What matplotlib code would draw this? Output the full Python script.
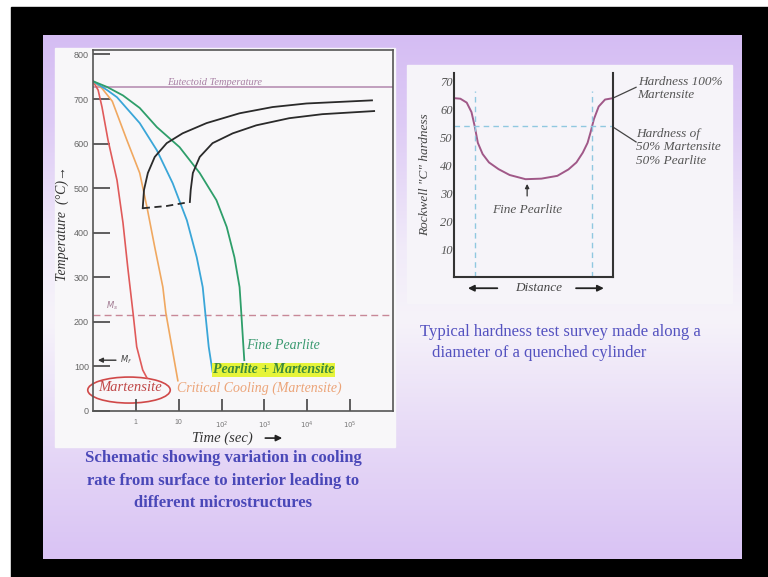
import numpy as np
import matplotlib
matplotlib.use("Agg")
import matplotlib.pyplot as plt
from matplotlib.patches import Rectangle, Ellipse
from matplotlib.colors import to_rgb

# ---- cooling curves (log10 time in s, temperature in C) ----
red_logt = [-1.0, -0.88, -0.79, -0.65, -0.44, -0.30, -0.19, -0.12, -0.06, 0.02, 0.16, 0.26]
red_temp = [740, 720, 682, 608, 518, 422, 323, 265, 215, 144, 92, 74]

orange_logt = [-1.0, -0.79, -0.55, -0.21, 0.09, 0.26, 0.44, 0.63, 0.70, 0.84, 0.98]
orange_temp = [740, 724, 695, 608, 534, 457, 368, 278, 220, 144, 68]

blue_logt = [-1.0, -0.67, -0.44, 0.09, 0.49, 0.86, 1.19, 1.42, 1.56, 1.62, 1.70, 1.79]
blue_temp = [740, 720, 704, 646, 585, 511, 428, 345, 278, 220, 144, 88]

green_logt = [-1.0, -0.67, -0.30, 0.09, 0.49, 1.02, 1.49, 1.88, 2.12, 2.30, 2.42, 2.46, 2.50, 2.53]
green_temp = [740, 727, 708, 680, 637, 592, 534, 473, 413, 345, 278, 220, 159, 114]

start_logt = [0.16, 0.19, 0.28, 0.44, 0.72, 1.09, 1.65, 2.42, 3.19, 3.98, 5.51]
start_temp = [455, 496, 534, 570, 601, 623, 646, 668, 682, 690, 697]

finish_logt = [1.26, 1.28, 1.33, 1.49, 1.79, 2.26, 2.81, 3.58, 4.35, 5.56]
finish_temp = [469, 496, 534, 570, 601, 623, 641, 657, 666, 673]

nose_logt = [0.16, 0.72, 1.26]
nose_temp = [455, 460, 469]

eutectoid_temp = 726
ms_temp = 215
mf_temp = 114

time_ticks = [1, 10, 100, 1000, 10000, 100000]
time_labels = ["1", "10", r"$10^2$", r"$10^3$", r"$10^4$", r"$10^5$"]
temp_ticks = [0, 100, 200, 300, 400, 500, 600, 700, 800]

# ---- hardness profile ----
hard_dist = [0.0, 0.04, 0.08, 0.11, 0.13, 0.15, 0.18, 0.22, 0.28, 0.35, 0.45, 0.55,
             0.65, 0.72, 0.77, 0.81, 0.84, 0.86, 0.88, 0.91, 0.95, 1.0]
hard_val = [64, 63.8, 62.4, 59, 54, 48, 44, 41, 38.6, 36.5, 35, 35.2,
            36.2, 38.5, 41, 44.5, 48, 52, 56.5, 61, 63.5, 64]
hard_ticks = [10, 20, 30, 40, 50, 60, 70]
half_hardness = 54

serif = ["Liberation Serif", "DejaVu Serif"]
sans = ["Liberation Sans", "DejaVu Sans"]

fig = plt.figure(figsize=(7.68, 5.77), dpi=100)
fig.patch.set_facecolor("white")

# ---- slide background in pixel coords ----
bg = fig.add_axes([0, 0, 1, 1])
bg.add_patch(Rectangle((11, 7), 757, 570, color="black", zorder=0))
stops_y = [35, 120, 250, 320, 420, 559]
stops_c = [to_rgb(c) for c in ["#d5bdf3", "#ddcaf5", "#f1ebf9", "#f6f3fa", "#e9ddf7", "#d9c3f4"]]
ys = np.arange(35, 560)
grad = np.stack([np.interp(ys, stops_y, [c[i] for c in stops_c]) for i in range(3)], axis=-1)
bg.imshow(grad[:, None, :], extent=(43, 742, 559, 35), aspect="auto",
          interpolation="bilinear", zorder=1)
bg.add_patch(Rectangle((55, 48), 340, 399, color="#f8f7f9", zorder=2))
bg.add_patch(Rectangle((407, 65), 325, 238, color="#f6f4f9", zorder=2))
bg.set_xlim(0, 768)
bg.set_ylim(577, 0)
bg.axis("off")

cap_color = "#4a48b8"
for yy, line in zip([458, 481, 503], ["Schematic showing variation in cooling",
                                      "rate from surface to interior leading to",
                                      "different microstructures"]):
    bg.text(223, yy, line, ha="center", va="center", fontsize=12, fontweight="bold",
            family=serif, color=cap_color, zorder=3)
bg.text(420, 332, "Typical hardness test survey made along a", ha="left", va="center",
        fontsize=12, family=serif, color="#5452c0", zorder=3)
bg.text(432, 353, "diameter of a quenched cylinder", ha="left", va="center",
        fontsize=12, family=serif, color="#5452c0", zorder=3)

# ---- left chart: cooling curves ----
ax = fig.add_axes([93 / 768, 1 - 411 / 577, 300 / 768, 361 / 577])
ax.set_facecolor("#f8f7f9")
ax.set_xscale("log")
ax.set_xlim(0.1, 1e6)
ax.set_ylim(0, 810)

ax.axhline(eutectoid_temp, color="#b890b4", lw=1.2)
ax.axhline(ms_temp, color="#c88898", lw=1.0, ls=(0, (5, 3)))

def tt(v):
    return 10 ** np.array(v)

ax.plot(tt(red_logt), red_temp, color="#e05a5a", lw=1.2)
ax.plot(tt(orange_logt), orange_temp, color="#f0a860", lw=1.2)
ax.plot(tt(blue_logt), blue_temp, color="#3aa6d8", lw=1.3)
ax.plot(tt(green_logt), green_temp, color="#2e9e6a", lw=1.3)
ax.plot(tt(start_logt), start_temp, color="#2a2a2a", lw=1.3)
ax.plot(tt(finish_logt), finish_temp, color="#2a2a2a", lw=1.3)
ax.plot(tt(nose_logt), nose_temp, color="#2a2a2a", lw=1.3, ls=(0, (4, 2.5)))

ax.set_xticks(time_ticks)
ax.set_xticklabels(time_labels)
ax.xaxis.set_minor_locator(matplotlib.ticker.NullLocator())
ax.set_yticks(temp_ticks)
ax.tick_params(axis="x", direction="in", length=9, width=1.2, color="#444",
               labelsize=5, labelcolor="#777", pad=6)
ax.tick_params(axis="y", direction="in", length=12, width=1.2, color="#444",
               labelsize=6.5, labelcolor="#666", pad=3)
for lab in ax.get_xticklabels() + ax.get_yticklabels():
    lab.set_family(sans)
for s in ax.spines.values():
    s.set_color("#555")
    s.set_linewidth(1.2)

ax.text(10 ** 1.84, 738, "Eutectoid Temperature", ha="center", va="center",
        fontsize=7.5, style="italic", family=serif, color="#a880a4")
ax.text(10 ** -0.56, ms_temp + 8, r"$M_s$", ha="center", va="bottom",
        fontsize=6, color="#a07890")
ax.annotate("", xy=(10 ** -0.95, mf_temp), xytext=(10 ** -0.4, mf_temp),
            arrowprops=dict(arrowstyle="-|>", color="#333", lw=1, mutation_scale=7))
ax.text(10 ** -0.38, mf_temp, r"$M_f$", ha="left", va="center", fontsize=6, color="#444")

ax.text(10 ** 2.58, 148, "Fine Pearlite", ha="left", va="center", fontsize=10,
        style="italic", family=serif, color="#3a9a70")
ax.text(10 ** 1.8, 92, "Pearlite + Martensite", ha="left", va="center", fontsize=10,
        style="italic", fontweight="bold", family=serif, color="#3c8a3c",
        bbox=dict(boxstyle="square,pad=0.05", fc="#e6f43a", ec="none"))
ax.text(10 ** 0.95, 52, "Critical Cooling (Martensite)", ha="left", va="center",
        fontsize=10, style="italic", family=serif, color="#eca478")
ax.text(10 ** -0.14, 52, "Martensite", ha="center", va="center", fontsize=10.5,
        style="italic", family=serif, color="#c04848")
ax.add_patch(Ellipse((0.12, 0.058), 0.275, 0.072, transform=ax.transAxes, fill=False,
                     ec="#d04848", lw=1.2, clip_on=False))

ax.text(0.43, -0.075, "Time (sec)", ha="center", va="center", fontsize=10.5,
        style="italic", family=serif, color="#333", transform=ax.transAxes)
ax.annotate("", xy=(0.64, -0.075), xytext=(0.565, -0.075), xycoords="axes fraction",
            arrowprops=dict(arrowstyle="-|>", color="#222", lw=1.2, mutation_scale=9))
ax.text(-0.103, 0.52, "Temperature  (°C)→", ha="center", va="center", rotation=90,
        fontsize=10, style="italic", family=serif, color="#333", transform=ax.transAxes)

# ---- right chart: hardness survey ----
ax2 = fig.add_axes([454 / 768, 1 - 277 / 577, 159 / 768, 204 / 577])
ax2.set_facecolor("#f6f4f9")
ax2.set_xlim(0, 1)
ax2.set_ylim(0, 73)
ax2.plot(hard_dist, hard_val, color="#a05888", lw=1.4)
ax2.axhline(half_hardness, color="#90c8e0", lw=1.0, ls=(0, (4, 3)))
for xv in [0.13, 0.87]:
    ax2.plot([xv, xv], [0, 66.4], color="#90c8e0", lw=1.0, ls=(0, (4, 3)))

ax2.spines["top"].set_visible(False)
for k in ["left", "right", "bottom"]:
    ax2.spines[k].set_color("#333")
    ax2.spines[k].set_linewidth(1.5)
ax2.set_xticks([])
ax2.set_yticks(hard_ticks)
ax2.tick_params(axis="y", length=0, labelsize=9, labelcolor="#555", pad=1)
for lab in ax2.get_yticklabels():
    lab.set_family(serif)
    lab.set_style("italic")
ax2.text(-0.18, 0.5, "Rockwell \"C\" hardness", ha="center", va="center", rotation=90,
         fontsize=9.5, style="italic", family=serif, color="#444", transform=ax2.transAxes)

ann_kw = dict(fontsize=9.5, style="italic", family=serif, color="#555",
              transform=ax2.transAxes, clip_on=False)
ax2.plot([1.0, 1.145], [0.877, 0.93], color="#444", lw=0.9, transform=ax2.transAxes,
         clip_on=False)
ax2.text(1.155, 0.985, "Hardness 100%\nMartensite", ha="left", va="top",
         linespacing=1.15, **ann_kw)
ax2.plot([1.0, 1.145], [0.735, 0.662], color="#444", lw=0.9, transform=ax2.transAxes,
         clip_on=False)
ax2.text(1.145, 0.73, "Hardness of\n50% Martensite\n50% Pearlite", ha="left", va="top",
         linespacing=1.15, **ann_kw)

ax2.text(0.46, 24, "Fine Pearlite", ha="center", va="center", fontsize=9.5,
         style="italic", family=serif, color="#555")
ax2.annotate("", xy=(0.46, 34.3), xytext=(0.46, 28),
             arrowprops=dict(arrowstyle="-|>", color="#333", lw=0.9, mutation_scale=6))

ax2.text(0.535, -0.055, "Distance", ha="center", va="center", fontsize=9.5,
         style="italic", family=serif, color="#444", transform=ax2.transAxes)
ax2.annotate("", xy=(0.07, -0.055), xytext=(0.29, -0.055), xycoords="axes fraction",
             arrowprops=dict(arrowstyle="-|>", color="#222", lw=1.3, mutation_scale=9))
ax2.annotate("", xy=(0.96, -0.055), xytext=(0.75, -0.055), xycoords="axes fraction",
             arrowprops=dict(arrowstyle="-|>", color="#222", lw=1.3, mutation_scale=9))

fig.savefig("out.png", dpi=100)
